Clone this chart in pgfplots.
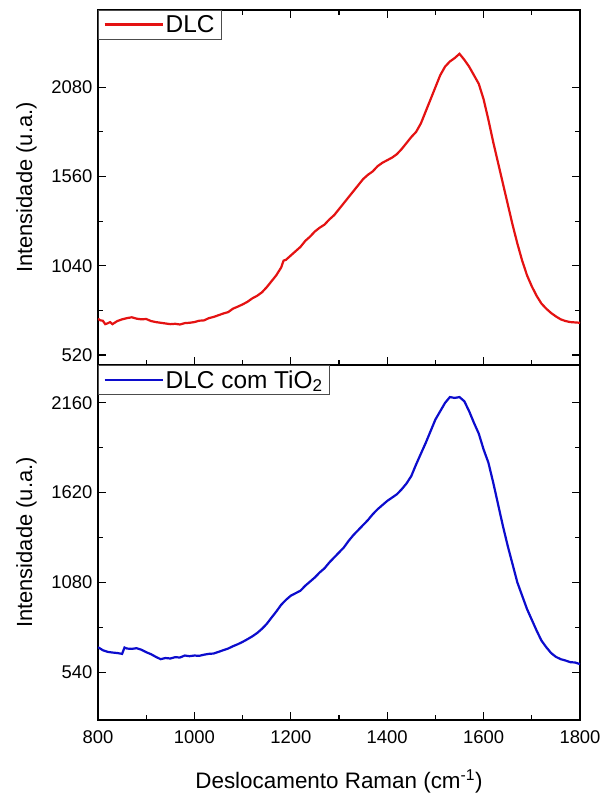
\documentclass[border=0pt]{standalone}
\usepackage{fontspec}
\setmainfont{Liberation Sans}
\usepackage{pgfplots}
\usepackage{pgfplotstable}
\pgfplotsset{compat=1.18}

\definecolor{dlcred}{RGB}{228,18,18}
\definecolor{dlcblue}{RGB}{12,12,205}

% Raman spectra (x in cm^-1, y in a.u.)
\pgfplotstableread[row sep=\\]{
x y\\
800 731\\ 805 722\\ 810 720\\ 815 700\\ 820 705\\ 825 712\\ 830 700\\ 840 718\\ 850 728\\ 860 735\\ 870 740\\ 880 732\\ 890 728\\
900 730\\ 910 718\\ 920 712\\ 930 708\\ 940 704\\ 950 700\\ 960 702\\ 970 698\\ 980 706\\ 990 708\\
1000 712\\ 1010 720\\ 1020 722\\ 1030 735\\ 1040 742\\ 1050 752\\ 1060 762\\ 1070 770\\ 1080 790\\ 1090 802\\
1100 815\\ 1110 830\\ 1120 850\\ 1130 865\\ 1140 885\\ 1150 915\\ 1160 950\\ 1170 985\\ 1180 1030\\ 1185 1070\\ 1190 1075\\
1200 1100\\ 1210 1125\\ 1220 1150\\ 1230 1185\\ 1240 1210\\ 1250 1240\\ 1260 1262\\ 1270 1280\\ 1280 1310\\ 1290 1335\\
1300 1370\\ 1310 1405\\ 1320 1440\\ 1330 1475\\ 1340 1510\\ 1350 1545\\ 1360 1570\\ 1370 1590\\ 1380 1620\\ 1390 1640\\
1400 1655\\ 1410 1670\\ 1420 1690\\ 1430 1720\\ 1440 1755\\ 1450 1790\\ 1460 1820\\ 1470 1870\\ 1480 1940\\ 1490 2010\\
1500 2080\\ 1510 2150\\ 1520 2200\\ 1530 2230\\ 1540 2250\\ 1550 2275\\ 1560 2240\\ 1570 2200\\ 1580 2150\\ 1590 2100\\
1600 2010\\ 1610 1890\\ 1620 1760\\ 1630 1640\\ 1640 1520\\ 1650 1400\\ 1660 1280\\ 1670 1170\\ 1680 1070\\ 1690 985\\
1700 920\\ 1710 865\\ 1720 820\\ 1730 790\\ 1740 765\\ 1750 745\\ 1760 728\\ 1770 718\\ 1780 712\\ 1790 710\\
1800 708\\
}\dlc

\pgfplotstableread[row sep=\\]{
x y\\
800 690\\ 810 672\\ 820 662\\ 830 658\\ 840 655\\ 850 650\\ 855 688\\ 860 682\\ 870 680\\ 880 684\\ 890 675\\
900 660\\ 910 648\\ 920 632\\ 930 618\\ 940 625\\ 950 622\\ 960 630\\ 970 628\\ 980 640\\ 990 636\\
1000 640\\ 1010 638\\ 1020 645\\ 1030 650\\ 1040 652\\ 1050 662\\ 1060 672\\ 1070 682\\ 1080 696\\ 1090 708\\
1100 722\\ 1110 738\\ 1120 755\\ 1130 775\\ 1140 800\\ 1150 830\\ 1160 868\\ 1170 905\\ 1180 945\\ 1190 975\\
1200 1000\\ 1210 1015\\ 1220 1030\\ 1230 1060\\ 1240 1085\\ 1250 1110\\ 1260 1140\\ 1270 1165\\ 1280 1200\\ 1290 1230\\
1300 1260\\ 1310 1290\\ 1320 1330\\ 1330 1365\\ 1340 1395\\ 1350 1425\\ 1360 1455\\ 1370 1490\\ 1380 1520\\ 1390 1545\\
1400 1570\\ 1410 1590\\ 1420 1610\\ 1430 1640\\ 1440 1675\\ 1450 1720\\ 1460 1790\\ 1470 1855\\ 1480 1920\\ 1490 1990\\
1500 2060\\ 1510 2110\\ 1520 2160\\ 1530 2195\\ 1540 2190\\ 1550 2195\\ 1560 2170\\ 1570 2110\\ 1580 2040\\ 1590 1975\\
1600 1880\\ 1610 1800\\ 1620 1680\\ 1630 1550\\ 1640 1420\\ 1650 1300\\ 1660 1190\\ 1670 1080\\ 1680 1000\\ 1690 920\\
1700 855\\ 1710 790\\ 1720 730\\ 1730 690\\ 1740 655\\ 1750 632\\ 1760 618\\ 1770 610\\ 1780 600\\ 1790 598\\
1800 588\\
}\dlctio

\pgfplotsset{
  panel/.style={
    width=482bp, height=355bp, scale only axis,
    xmin=800, xmax=1800,
    xtick={800,1000,...,1800}, minor x tick num=1,
    minor y tick num=1,
    tick align=inside,
    major tick length=8bp, minor tick length=5bp,
    axis line style={line width=1.2bp},
    every tick/.style={line width=1.1bp, black},
    tick label style={font=\fontsize{18.5}{20}\selectfont},
    yticklabel style={xshift=-2bp},
    xticklabel style={yshift=-7bp},
    label style={font=\fontsize{22}{24}\selectfont},
    /pgf/number format/assume math mode=true,
    /pgf/number format/set thousands separator={},
    ylabel={Intensidade (u.a.)},
    ylabel style={at={(axis description cs:-0.1369,0.5)}, anchor=base},
    legend style={at={(0,1)}, anchor=north west, draw=black!70,
      line width=0.7bp, inner xsep=5bp, inner ysep=3bp,
      font=\fontsize{24.5}{26}\selectfont,
      /tikz/every even column/.append style={column sep=1.5bp}},
    legend cell align=left,
    legend image code/.code={\draw[#1, line width=2.4bp] (0bp,0bp) -- (58bp,0bp);},
  }
}

\begin{document}
\begin{tikzpicture}
\useasboundingbox (-98bp,-784bp) rectangle (505bp,10bp);

\begin{axis}[panel, at={(0,0)}, anchor=north west,
    ymin=462, ymax=2530, ytick={520,1040,1560,2080},
    xticklabels={}]
\addplot[dlcred, line width=2.2bp] table {\dlc};
\addlegendentry{DLC}
\end{axis}

\begin{axis}[panel, at={(0,-355bp)}, anchor=north west,
    ymin=252, ymax=2388, ytick={540,1080,1620,2160},
    xtick pos=bottom,
    xlabel={Deslocamento Raman (cm\textsuperscript{-1})},
    xlabel style={at={(axis description cs:0.5,-0.19155)}, anchor=base,
      font=\fontsize{22.5}{24}\selectfont}]
\addplot[dlcblue, line width=2.2bp] table {\dlctio};
\addlegendentry{DLC com TiO\textsubscript{2}}
\end{axis}
\end{tikzpicture}
\end{document}
